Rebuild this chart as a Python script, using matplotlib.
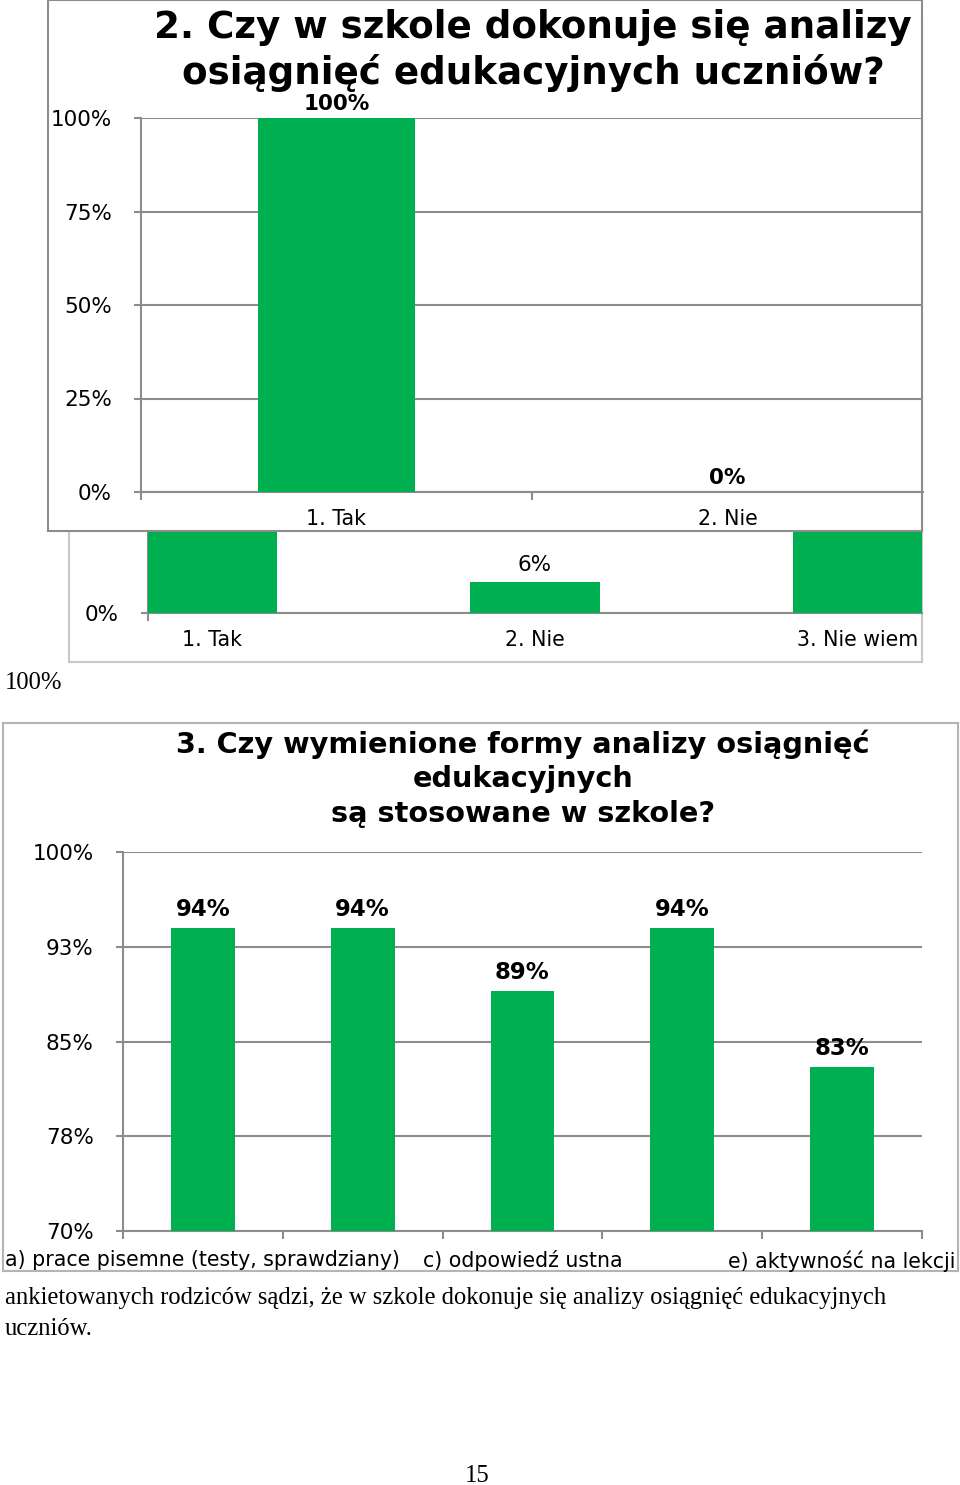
import matplotlib
matplotlib.use("Agg")
import matplotlib.pyplot as plt
from matplotlib.ticker import FixedLocator, NullFormatter

# ---------------- data ----------------
a_title_lines = ["2. Czy w szkole dokonuje się analizy", "osiągnięć edukacyjnych uczniów?"]
a_categories = ["1. Tak", "2. Nie"]
a_values = [100, 0]
a_yticks = [0, 25, 50, 75, 100]

b_categories = ["1. Tak", "2. Nie", "3. Nie wiem"]
b_values = [94, 6, 94]   # 1st and 3rd bar tops hidden in the reference
b_shown_labels = [False, True, False]
b_yticks = [0]

c_title_lines = ["3. Czy wymienione formy analizy osiągnięć", "edukacyjnych", "są stosowane w szkole?"]
c_categories = ["a) prace pisemne (testy, sprawdziany)", "b)", "c) odpowiedź ustna",
                "d)", "e) aktywność na lekcji"]
c_values = [94, 94, 89, 94, 83]
c_yticks = [70, 77.5, 85, 92.5, 100]
c_yticklabels = ["70%", "78%", "85%", "93%", "100%"]

body_lines = ["ankietowanych rodziców sądzi, że w szkole dokonuje się analizy osiągnięć edukacyjnych",
              "uczniów."]
page_number = "15"
stray_label = "100%"

# ---------------- style ----------------
W, H = 960, 1485
GREEN = "#00b050"
GRID = "#8c8c8c"
SANS = ["DejaVu Sans"]
SERIF = ["Liberation Serif", "DejaVu Serif"]
YT_FS = 15.5
XT_FS = 14.8
SERIF_FS = 17.7
plt.rcParams["font.family"] = SANS

fig = plt.figure(figsize=(W / 100, H / 100), dpi=100)
fig.patch.set_facecolor("white")


def box(x0, y0, x1, y1):
    return [x0 / W, 1 - y1 / H, (x1 - x0) / W, (y1 - y0) / H]


def ftext(x, y, s, **kw):
    return fig.text(x / W, 1 - y / H, s, **kw)


def frame(x0, y0, x1, y1, color, z):
    ax = fig.add_axes(box(x0, y0, x1, y1), zorder=z)
    ax.set_xticks([]); ax.set_yticks([])
    ax.set_facecolor("white")
    for s in ax.spines.values():
        s.set_color(color); s.set_linewidth(1.5)
    return ax


def style_axes(ax):
    for s in ["top", "right"]:
        ax.spines[s].set_visible(False)
    for s in ["left", "bottom"]:
        ax.spines[s].set_color(GRID); ax.spines[s].set_linewidth(1.5)
    ax.set_facecolor("none")
    ax.tick_params(axis="y", length=5, width=1.5, color=GRID, labelsize=YT_FS, pad=16)
    ax.tick_params(axis="x", which="major", length=0, labelsize=XT_FS, pad=12)
    ax.tick_params(axis="x", which="minor", length=6, width=1.5, color=GRID)
    ax.grid(axis="y", color=GRID, linewidth=1.5)
    ax.set_axisbelow(True)


# ---------------- chart B (behind) ----------------
frame(69, 20, 922, 662, "#c8c8c8", 1)
axb = fig.add_axes(box(148, 96, 922, 613), zorder=2)
style_axes(axb)
xb = list(range(len(b_categories)))
axb.bar(xb, b_values, width=0.4, color=GREEN, zorder=3)
axb.set_xlim(-0.2, 2.2)
axb.set_ylim(0, 100)
axb.set_yticks(b_yticks)
axb.set_yticklabels([f"{v}%" for v in b_yticks])
axb.set_xticks(xb)
axb.set_xticklabels(b_categories)
axb.xaxis.set_minor_locator(FixedLocator([-0.2]))
axb.xaxis.set_minor_formatter(NullFormatter())
for i, v in enumerate(b_values):
    if b_shown_labels[i]:
        axb.annotate(f"{v}%", (i, v), xytext=(0, 5), textcoords="offset points",
                     ha="center", va="bottom", fontsize=YT_FS)

# ---------------- chart A (front) ----------------
frame(48, 0, 922, 531, "#8c8c8c", 3)
axa = fig.add_axes(box(141, 118, 923, 492), zorder=4)
style_axes(axa)
xa = list(range(len(a_categories)))
axa.bar(xa, a_values, width=0.4, color=GREEN, zorder=3)
axa.set_xlim(-0.5, 1.5)
axa.set_ylim(0, 100)
axa.set_yticks(a_yticks)
axa.set_yticklabels([f"{v}%" for v in a_yticks])
axa.set_xticks(xa)
axa.set_xticklabels(a_categories)
axa.xaxis.set_minor_locator(FixedLocator([-0.5, 0.5]))
axa.xaxis.set_minor_formatter(NullFormatter())
for i, v in enumerate(a_values):
    axa.annotate(f"{v}%", (i, v), xytext=(0, 3), textcoords="offset points",
                 ha="center", va="bottom", fontsize=15.5, fontweight="bold")
for y, line in zip([28, 73], a_title_lines):
    t = ftext(533, y, line, fontsize=26.8, fontweight="bold", ha="center", va="center")
    t.set_zorder(10)

# stray label
ftext(5, 683, stray_label, family=SERIF, fontsize=SERIF_FS, ha="left", va="center")

# ---------------- chart C ----------------
frame(3, 723, 958, 1271, "#b4b4b4", 3)
axc = fig.add_axes(box(123, 852, 922, 1231), zorder=4)
style_axes(axc)
xc = list(range(len(c_categories)))
axc.bar(xc, c_values, width=0.4, color=GREEN, zorder=3)
axc.set_xlim(-0.5, 4.5)
axc.set_ylim(70, 100)
axc.set_yticks(c_yticks)
axc.set_yticklabels(c_yticklabels)
axc.set_xticks(xc)
axc.set_xticklabels([c if i % 2 == 0 else "" for i, c in enumerate(c_categories)])
axc.tick_params(axis="x", which="major", pad=14)
axc.xaxis.set_minor_locator(FixedLocator([i - 0.5 for i in range(len(c_categories) + 1)]))
axc.xaxis.set_minor_formatter(NullFormatter())
for i, v in enumerate(c_values):
    axc.annotate(f"{v}%", (i, v), xytext=(0, 5), textcoords="offset points",
                 ha="center", va="bottom", fontsize=16.5, fontweight="bold")
for y, line in zip([744, 779, 814], c_title_lines):
    t = ftext(523, y, line, fontsize=20.7, fontweight="bold", ha="center", va="center")
    t.set_zorder(10)

# ---------------- body text ----------------
ftext(5, 1298, body_lines[0], family=SERIF, fontsize=SERIF_FS, ha="left", va="center")
ftext(5, 1329, body_lines[1], family=SERIF, fontsize=SERIF_FS, ha="left", va="center")
ftext(477, 1476, page_number, family=SERIF, fontsize=SERIF_FS, ha="center", va="center")

fig.savefig("out.png", dpi=100, facecolor="white")
